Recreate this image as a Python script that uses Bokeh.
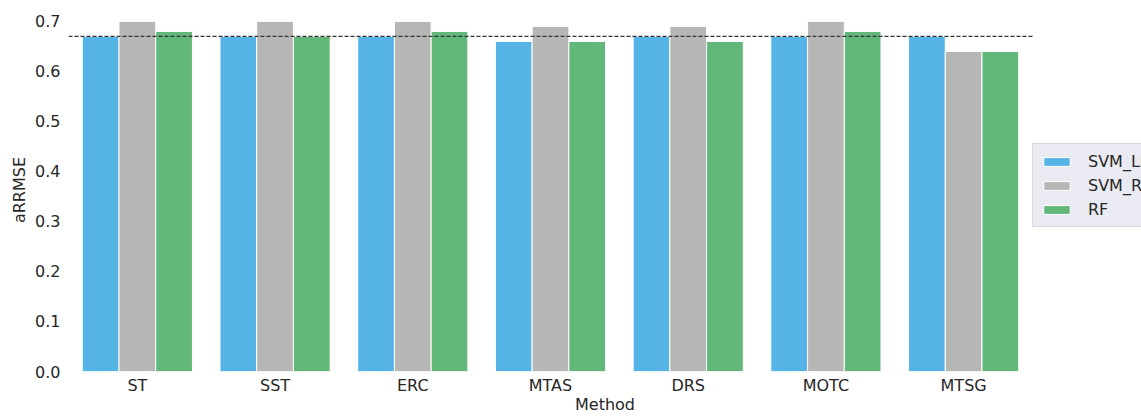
from bokeh.plotting import figure
from bokeh.models import ColumnDataSource, Range1d, FixedTicker, Legend, LegendItem
from bokeh.embed import file_html
from bokeh.resources import INLINE

methods = ["ST", "SST", "ERC", "MTAS", "DRS", "MOTC", "MTSG"]
svm_linear = [0.67, 0.67, 0.67, 0.66, 0.67, 0.67, 0.67]
svm_rbf = [0.70, 0.70, 0.70, 0.69, 0.69, 0.70, 0.64]
rf = [0.68, 0.67, 0.68, 0.66, 0.66, 0.68, 0.64]
series_names = ["SVM_Linear", "SVM_RBF", "RF"]
series_values = [svm_linear, svm_rbf, rf]
colors = ["#56b3e6", "#b6b6b5", "#62b77a"]
y_ticks = [0.0, 0.1, 0.2, 0.3, 0.4, 0.5, 0.6, 0.7]
ref_value = 0.67

FONT = "DejaVu Sans"
TXT = "#262626"

n = len(methods)
p = figure(width=1141, height=416, output_backend="svg", toolbar_location=None,
           x_range=Range1d(-0.5, 7.2915), y_range=Range1d(0, 0.7258),
           min_border_left=68, min_border_right=0, min_border_top=8, min_border_bottom=43)
p.outline_line_color = None
p.xgrid.grid_line_color = None
p.ygrid.grid_line_color = None

bw = 0.8 / 3
renderers = []
for i, (name, vals, col) in enumerate(zip(series_names, series_values, colors)):
    xs = [k + (i - 1) * bw for k in range(n)]
    src = ColumnDataSource(dict(x=xs, top=vals))
    r = p.vbar(x="x", top="top", bottom=0, width=bw, source=src,
               fill_color=col, line_color="white", line_width=1)
    renderers.append((name, r))

# reference line spanning the category area only
p.segment(x0=[-0.5], x1=[n - 0.5], y0=[ref_value], y1=[ref_value],
          line_color="#333333", line_dash="4 2", line_width=1.2)

for ax in (p.xaxis[0], p.yaxis[0]):
    ax.axis_line_color = None
    ax.major_tick_line_color = None
    ax.minor_tick_line_color = None
    ax.major_tick_out = 0
    ax.major_tick_in = 0
    ax.minor_tick_out = 0
    ax.minor_tick_in = 0
    ax.major_label_text_font = FONT
    ax.major_label_text_font_size = "16px"
    ax.major_label_text_color = TXT
    ax.axis_label_text_font = FONT
    ax.axis_label_text_font_size = "16px"
    ax.axis_label_text_font_style = "normal"
    ax.axis_label_text_color = TXT

p.xaxis.ticker = FixedTicker(ticks=list(range(n)))
p.xaxis.major_label_overrides = {k: m for k, m in enumerate(methods)}
p.xaxis.major_label_standoff = 4
p.xaxis.axis_label = "Method"
p.xaxis.axis_label_standoff = -3

p.yaxis.ticker = FixedTicker(ticks=y_ticks)
p.yaxis.major_label_overrides = {t: f"{t:.1f}" for t in y_ticks}
p.yaxis.major_label_standoff = 8
p.yaxis.axis_label = "aRRMSE"
p.yaxis.axis_label_standoff = 3

legend = Legend(items=[LegendItem(label=nm, renderers=[r]) for nm, r in renderers],
                location=(964, 144), orientation="vertical")
legend.background_fill_color = "#eaeaf2"
legend.background_fill_alpha = 1.0
legend.border_line_color = "#cccccc"
legend.label_text_font = FONT
legend.label_text_font_size = "16px"
legend.label_text_color = TXT
legend.glyph_width = 33
legend.glyph_height = 11
legend.label_standoff = 15
legend.label_height = 20
legend.spacing = 4
legend.padding = 7
legend.margin = 0
p.add_layout(legend, "center")

open("out.html", "w").write(file_html(p, INLINE))
